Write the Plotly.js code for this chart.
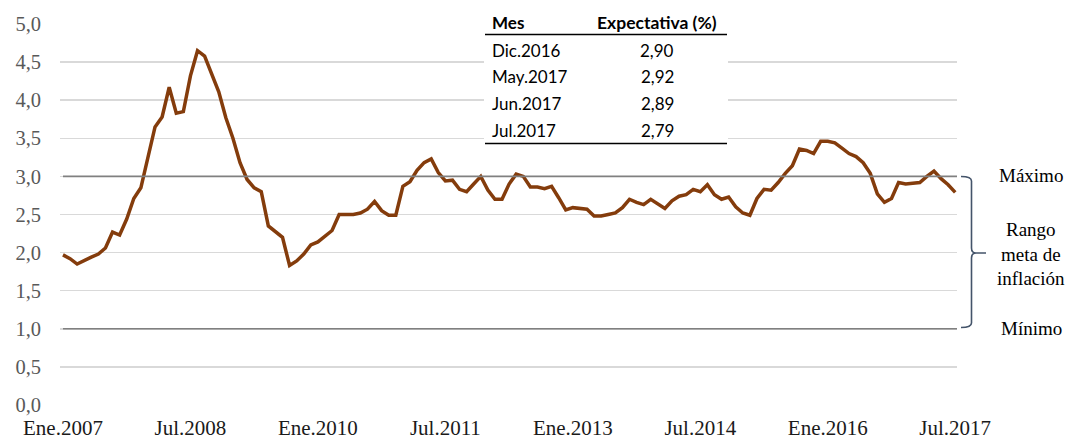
<!DOCTYPE html>
<html><head><meta charset="utf-8">
<script src="https://cdn.plot.ly/plotly-3.0.1.min.js"></script>
<style>html,body{margin:0;padding:0;background:#fff;}#chart{width:1067px;height:442px;}</style>
</head><body><div id="chart"></div>
<script>
const monthNames = ['Ene','Feb','Mar','Abr','May','Jun','Jul','Ago','Sep','Oct','Nov','Dic'];
const startYear = 2007;
const expectativa = [
  1.97,1.92,1.85,1.90,1.94,1.98,2.06,2.27,2.23,2.44,2.71,2.85,
  3.26,3.65,3.78,4.17,3.83,3.85,4.32,4.65,4.58,4.34,4.11,3.77,
  3.50,3.18,2.96,2.85,2.80,2.35,2.27,2.20,1.83,1.89,1.98,2.10,
  2.14,2.22,2.29,2.50,2.50,2.50,2.52,2.57,2.67,2.55,2.49,2.49,
  2.87,2.93,3.08,3.18,3.23,3.05,2.94,2.95,2.83,2.80,2.90,3.00,
  2.82,2.70,2.70,2.90,3.03,3.00,2.86,2.86,2.84,2.87,2.72,2.56,
  2.59,2.58,2.57,2.48,2.48,2.50,2.52,2.59,2.70,2.66,2.63,2.70,
  2.64,2.58,2.68,2.74,2.76,2.83,2.80,2.89,2.76,2.70,2.73,2.60,
  2.52,2.49,2.71,2.83,2.82,2.92,3.04,3.14,3.36,3.34,3.30,3.46,
  3.46,3.44,3.37,3.30,3.26,3.18,3.04,2.77,2.66,2.71,2.92,2.90,
  2.91,2.92,3.00,3.07,2.97,2.89,2.79
];
const months = expectativa.map((v, i) => monthNames[i % 12] + '.' + (startYear + Math.floor(i / 12)));
const tickLabels = ['Ene.2007','Jul.2008','Ene.2010','Jul.2011','Ene.2013','Jul.2014','Ene.2016','Jul.2017'];
const yTicks = [0,0.5,1,1.5,2,2.5,3,3.5,4,4.5,5];
const rangoMax = 3.0;
const rangoMin = 1.0;
const tablaHeader = ['Mes','Expectativa (%)'];
const tablaMes = ['Dic.2016','May.2017','Jun.2017','Jul.2017'];
const tablaValor = ['2,90','2,92','2,89','2,79'];
const rangoLabels = ['Máximo','Rango<br>meta de<br>inflación','Mínimo'];

// pixel -> paper helpers (plot area 60..957 x, 24..405 y)
const L = 60, R = 957, T = 24, B = 405;
const PX = x => (x - L) / (R - L);
const PY = y => (B - y) / (B - T);

const serif = 'Liberation Serif, serif';
const sans = 'Lato, Open Sans, sans-serif';

const annotations = [];
const shapes = [];

// white table background
shapes.push({type:'rect', xref:'paper', yref:'paper', x0:PX(484), x1:PX(728), y0:PY(147), y1:PY(4),
  fillcolor:'#ffffff', line:{width:0}, layer:'above'});
// table rules
shapes.push({type:'line', xref:'paper', yref:'paper', x0:PX(485), x1:PX(727), y0:PY(34.5), y1:PY(34.5),
  line:{color:'#000', width:1.5}, layer:'above'});
shapes.push({type:'line', xref:'paper', yref:'paper', x0:PX(485), x1:PX(727), y0:PY(143.5), y1:PY(143.5),
  line:{color:'#000', width:1.5}, layer:'above'});
// header
annotations.push({xref:'paper', yref:'paper', x:PX(490), y:PY(23), xanchor:'left', yanchor:'middle',
  text:'<b>' + tablaHeader[0] + '</b>', showarrow:false, font:{family:sans, size:17, color:'#000'}});
annotations.push({xref:'paper', yref:'paper', x:PX(657), y:PY(23), xanchor:'center', yanchor:'middle',
  text:'<b>' + tablaHeader[1] + '</b>', showarrow:false, font:{family:sans, size:17.5, color:'#000'}});
const rowY = [50, 76.5, 103.5, 130];
tablaMes.forEach((m, i) => {
  annotations.push({xref:'paper', yref:'paper', x:PX(490), y:PY(rowY[i]), xanchor:'left', yanchor:'middle',
    text:m, showarrow:false, font:{family:sans, size:17, color:'#000'}});
  annotations.push({xref:'paper', yref:'paper', x:PX(657), y:PY(rowY[i]), xanchor:'center', yanchor:'middle',
    text:tablaValor[i], showarrow:false, font:{family:sans, size:17, color:'#000'}});
});

// target range lines
[rangoMax, rangoMin].forEach(v => {
  shapes.push({type:'line', xref:'paper', yref:'y', x0:PX(63), x1:1, y0:v, y1:v,
    line:{color:'#808080', width:1.6}, layer:'above'});
});

// bracket
const bx = PX(971.5);
const path = [
  'M', PX(961), PY(176.5), 'Q', bx, PY(176.5), bx, PY(181),
  'L', bx, PY(248), 'Q', bx, PY(253), PX(976), PY(253), 'L', PX(986), PY(253),
  'M', PX(976), PY(253), 'Q', bx, PY(253), bx, PY(258),
  'L', bx, PY(323), 'Q', bx, PY(327.5), PX(961), PY(327.5)
].join(' ');
shapes.push({type:'path', xref:'paper', yref:'paper', path:path, line:{color:'#44546a', width:1.6}, layer:'above'});

// range labels
const labY = [175, 254, 328];
rangoLabels.forEach((t, i) => {
  annotations.push({xref:'paper', yref:'paper', x:PX(1031), y:PY(labY[i]), xanchor:'center', yanchor:'middle',
    text:t, showarrow:false, align:'center', font:{family:serif, size:19, color:'#000'}});
});

const trace = {
  x: months, y: expectativa, type:'scatter', mode:'lines',
  line:{color:'#843c0c', width:3.5}, hoverinfo:'skip'
};

const layout = {
  width:1067, height:442,
  margin:{l:L, r:1067 - R, t:T, b:442 - B, pad:0},
  paper_bgcolor:'#fff', plot_bgcolor:'#fff',
  separators:',.',
  showlegend:false,
  xaxis:{
    type:'category', range:[-0.42, 126.25],
    tickmode:'array', tickvals:tickLabels, ticktext:tickLabels,
    showgrid:false, zeroline:false, showline:false, ticks:'',
    tickfont:{family:serif, size:21, color:'#1a1a1a'}, ticklabelstandoff:8
  },
  yaxis:{
    range:[0,5], tickmode:'array', tickvals:yTicks, tickformat:'.1f',
    showgrid:true, gridcolor:'#d9d9d9', gridwidth:1.5, zeroline:false, showline:false, ticks:'',
    tickfont:{family:serif, size:20.5, color:'#595959'}, ticklabelstandoff:18
  },
  shapes:shapes, annotations:annotations
};

Plotly.newPlot('chart', [trace], layout, {displayModeBar:false, staticPlot:true});
</script>
</body></html>
